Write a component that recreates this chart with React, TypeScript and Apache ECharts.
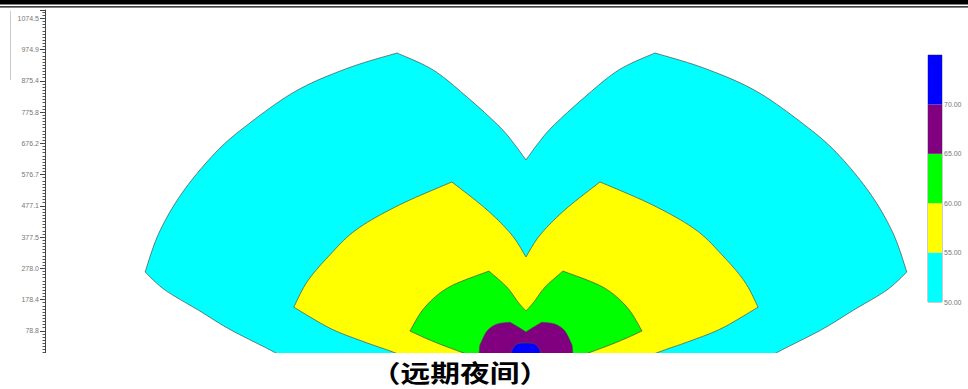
import React, { useEffect, useRef } from "react";
import * as echarts from "echarts";

// Y axis tick labels (metres)
const Y_TICK_LABELS = ["78.8", "178.4", "278.0", "377.5", "477.1", "576.7", "676.2", "775.8", "875.4", "974.9", "1074.5"];
const Y_INTERVAL = 99.57;
const Y_MIN = -20.77;
const Y_MAX = 1101;
const X_MIN = -1533;
const X_MAX = 1409;

// Noise levels (dB) and colours
const LEVELS = [50, 55, 60, 65, 70, 75];
const LEVEL_COLORS = ["#00FFFF", "#FFFF00", "#00FF00", "#800080", "#0000FF"];

// Contour outlines, [x, y] in metres; each contour is a list of
// edges (arcs) that meet at sharp corners.
const contour50 = [
  [[-727, -34], [-803, 11], [-940, 81], [-1045, 145], [-1151, 209], [-1214, 266]],
  [[-1214, 266], [-1170, 390], [-1096, 518], [-991, 645], [-889, 734], [-733, 843], [-567, 916], [-411, 964]],
  [[-411, 964], [-296, 910], [-188, 824], [-83, 728], [-35, 671], [0, 623]],
  [[0, 623], [35, 671], [83, 728], [188, 824], [296, 910], [411, 964]],
  [[411, 964], [567, 916], [733, 843], [889, 734], [991, 645], [1096, 518], [1170, 390], [1214, 266]],
  [[1214, 266], [1151, 209], [1045, 145], [940, 81], [803, 11], [727, -34]],
];
const contour55 = [
  [[-312, -34], [-424, 11], [-523, 46], [-625, 87], [-740, 154]],
  [[-740, 154], [-698, 234], [-631, 314], [-542, 400], [-405, 479], [-236, 553]],
  [[-236, 553], [-124, 464], [-45, 384], [0, 314]],
  [[0, 314], [45, 384], [124, 464], [236, 553]],
  [[236, 553], [405, 479], [542, 400], [631, 314], [698, 234], [740, 154]],
  [[740, 154], [625, 87], [523, 46], [424, 11], [312, -34]],
];
const contour60 = [
  [[-83, -34], [-274, 36], [-370, 78]],
  [[-370, 78], [-322, 154], [-245, 218], [-118, 269]],
  [[-118, 269], [-61, 218], [-25, 170], [0, 142]],
  [[0, 142], [25, 170], [61, 218], [118, 269]],
  [[118, 269], [245, 218], [322, 154], [370, 78]],
  [[370, 78], [274, 36], [83, -34]],
];
const contour65 = [
  [[-153, -34], [-147, 33]],
  [[-147, 33], [-124, 78], [-92, 100], [-51, 106]],
  [[-51, 106], [-25, 91], [0, 75]],
  [[0, 75], [25, 91], [51, 106]],
  [[51, 106], [92, 100], [124, 78], [147, 33]],
  [[147, 33], [153, -34]],
];
const contour70 = [
  [[-48, -34], [-45, 17]],
  [[-45, 17], [-29, 36], [0, 40], [29, 36], [45, 17]],
  [[45, 17], [48, -34]],
];
const CONTOURS = [contour50, contour55, contour60, contour65, contour70];

const CAPTION = "（远期夜间）";

// smooth drawing of one edge through its read points (Catmull-Rom, pixel space)
function smoothEdge(pts: number[][], steps = 10): number[][] {
  const out: number[][] = [];
  const n = pts.length;
  if (n < 3) return pts.slice();
  for (let i = 0; i < n - 1; i++) {
    const p0 = pts[i - 1] || pts[i];
    const p1 = pts[i];
    const p2 = pts[i + 1];
    const p3 = pts[i + 2] || pts[i + 1];
    for (let s = 0; s < steps; s++) {
      const t = s / steps;
      const t2 = t * t;
      const t3 = t2 * t;
      const f = (a: number, b: number, c: number, d: number) =>
        0.5 * (2 * b + (-a + c) * t + (2 * a - 5 * b + 4 * c - d) * t2 + (-a + 3 * b - 3 * c + d) * t3);
      out.push([f(p0[0], p1[0], p2[0], p3[0]), f(p0[1], p1[1], p2[1], p3[1])]);
    }
  }
  out.push(pts[n - 1]);
  return out;
}

export default function App() {
  const ref = useRef<HTMLDivElement>(null);

  useEffect(() => {
    if (!ref.current) return;
    const chart = echarts.init(ref.current, null, { renderer: "svg" });

    const bandSeries = LEVEL_COLORS.map((c, i) => ({
      type: "bar",
      name: `${LEVELS[i]}-${LEVELS[i + 1]}`,
      xAxisIndex: 1,
      yAxisIndex: 1,
      stack: "cb",
      barWidth: "100%",
      silent: true,
      itemStyle: { color: c },
      data: [i === 0 ? LEVELS[1] : LEVELS[i + 1] - LEVELS[i]],
    }));

    chart.setOption({
      animation: false,
      backgroundColor: "#ffffff",
      grid: [
        { left: 45, right: 0, top: 10, bottom: 27 },
        { left: 928, top: 55, width: 14, height: 247, show: true, borderColor: "#999", borderWidth: 1 },
      ],
      xAxis: [
        { type: "value", gridIndex: 0, min: X_MIN, max: X_MAX, show: false },
        { type: "category", gridIndex: 1, data: [""], show: false },
      ],
      yAxis: [
        {
          type: "value",
          gridIndex: 0,
          min: Y_MIN,
          max: Y_MAX,
          interval: Y_INTERVAL,
          axisLine: { show: true, onZero: false, lineStyle: { color: "#444", width: 1 } },
          axisTick: { show: true, length: 5, lineStyle: { color: "#444" } },
          minorTick: { show: true, splitNumber: 10, length: 2.5, lineStyle: { color: "#555" } },
          splitLine: { show: false },
          axisLabel: {
            fontSize: 7,
            color: "#777",
            margin: 6,
            fontFamily: "Liberation Sans, Arial, sans-serif",
            formatter: (v: number) => {
              const lab = Y_TICK_LABELS.find((l) => Math.abs(parseFloat(l) - v) < 1);
              return lab ?? "";
            },
          },
        },
        {
          type: "value",
          gridIndex: 1,
          position: "right",
          min: LEVELS[0],
          max: LEVELS[LEVELS.length - 1],
          interval: 5,
          axisLine: { show: false },
          axisTick: { show: false },
          splitLine: { show: false },
          axisLabel: {
            fontSize: 7,
            color: "#777",
            margin: 2,
            showMaxLabel: false,
            fontFamily: "Liberation Sans, Arial, sans-serif",
            formatter: (v: number) => (v >= LEVELS[LEVELS.length - 1] ? "" : v.toFixed(2)),
          },
        },
      ],
      series: [
        {
          type: "custom",
          xAxisIndex: 0,
          yAxisIndex: 0,
          clip: true,
          silent: true,
          data: CONTOURS.map((_, i) => [i, 0]),
          encode: { x: 0, y: 1 },
          renderItem: (params: any, api: any) => {
            const i = params.dataIndex;
            const pts: number[][] = [];
            CONTOURS[i].forEach((edge, k) => {
              const px = smoothEdge(edge.map((p) => api.coord(p)));
              (k === 0 ? px : px.slice(1)).forEach((q) => pts.push(q));
            });
            return {
              type: "polygon",
              shape: { points: pts },
              style: { fill: LEVEL_COLORS[i], stroke: "#4a4a4a", lineWidth: 0.7 },
            };
          },
        },
        ...bandSeries,
      ],
      graphic: [
        { type: "rect", z: 100, shape: { x: 0, y: 353, width: 968, height: 36 }, style: { fill: "#ffffff" } },
        { type: "rect", z: 100, shape: { x: 0, y: 0, width: 968, height: 4.5 }, style: { fill: "#000000" } },
        { type: "rect", z: 100, shape: { x: 0, y: 6.2, width: 968, height: 1.4 }, style: { fill: "#000000" } },
        { type: "line", z: 100, shape: { x1: 10.5, y1: 11, x2: 10.5, y2: 80 }, style: { stroke: "#cccccc", lineWidth: 1 } },
        {
          type: "text",
          z: 101,
          x: 460,
          y: 372,
          scaleX: 1.24,
          style: {
            text: CAPTION,
            font: "bold 24px 'Noto Sans CJK SC', sans-serif",
            fill: "#000000",
            textAlign: "center",
            textVerticalAlign: "middle",
            align: "center",
            verticalAlign: "middle",
          },
        },
      ],
    });

    return () => chart.dispose();
  }, []);

  return (
    <div
      ref={ref}
      style={{ position: "fixed", left: 0, top: 0, width: 968, height: 389, background: "#fff" }}
    />
  );
}
